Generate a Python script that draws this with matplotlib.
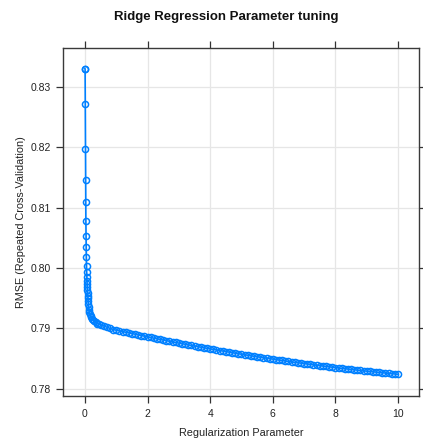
import matplotlib
matplotlib.use("Agg")
import matplotlib.pyplot as plt

plt.rcParams['font.family'] = ['Liberation Sans', 'DejaVu Sans']

# ridge penalty grid and cross-validated RMSE
lam = [0, 0.005, 0.01, 0.015, 0.02, 0.025, 0.03, 0.035, 0.04, 0.045,
       0.05, 0.055, 0.06, 0.065, 0.07, 0.075, 0.08, 0.085, 0.09, 0.095,
       0.10, 0.11, 0.12, 0.13, 0.14, 0.16, 0.18, 0.20, 0.23, 0.26,
       0.30, 0.35, 0.40, 0.45, 0.50, 0.60, 0.70, 0.80, 0.90, 1.0,
       1.1, 1.2, 1.3, 1.4, 1.5, 1.6, 1.7, 1.8, 1.9, 2.0,
       2.1, 2.2, 2.3, 2.4, 2.5, 2.6, 2.7, 2.8, 2.9, 3.0,
       3.1, 3.2, 3.3, 3.4, 3.5, 3.6, 3.7, 3.8, 3.9, 4.0,
       4.1, 4.2, 4.3, 4.4, 4.5, 4.6, 4.7, 4.8, 4.9, 5.0,
       5.1, 5.2, 5.3, 5.4, 5.5, 5.6, 5.7, 5.8, 5.9, 6.0,
       6.1, 6.2, 6.3, 6.4, 6.5, 6.6, 6.7, 6.8, 6.9, 7.0,
       7.1, 7.2, 7.3, 7.4, 7.5, 7.6, 7.7, 7.8, 7.9, 8.0,
       8.1, 8.2, 8.3, 8.4, 8.5, 8.6, 8.7, 8.8, 8.9, 9.0,
       9.1, 9.2, 9.3, 9.4, 9.5, 9.6, 9.7, 9.8, 9.9, 10.0]
rmse = [0.8330, 0.8329, 0.8271, 0.8197, 0.8145, 0.8109, 0.8078, 0.8053, 0.8035, 0.8018,
        0.8003, 0.7994, 0.7985, 0.7979, 0.7973, 0.7968, 0.7963, 0.7958, 0.7954, 0.7950,
        0.7946, 0.7940, 0.7935, 0.7931, 0.7927, 0.7923, 0.7920, 0.7918, 0.7916, 0.7914,
        0.7912, 0.7910, 0.7908, 0.7907, 0.7906, 0.7904, 0.7902, 0.7900, 0.7898, 0.7897,
        0.78959, 0.78947, 0.78936, 0.78925, 0.78914, 0.78903, 0.78892, 0.78881, 0.78870, 0.78859,
        0.78849, 0.78838, 0.78828, 0.78817, 0.78807, 0.78796, 0.78786, 0.78776, 0.78766, 0.78756,
        0.78746, 0.78736, 0.78726, 0.78717, 0.78707, 0.78698, 0.78688, 0.78679, 0.78669, 0.78660,
        0.78651, 0.78642, 0.78633, 0.78624, 0.78615, 0.78606, 0.78597, 0.78589, 0.78580, 0.78572,
        0.78563, 0.78555, 0.78546, 0.78538, 0.78530, 0.78522, 0.78514, 0.78506, 0.78498, 0.78491,
        0.78483, 0.78475, 0.78468, 0.78460, 0.78453, 0.78445, 0.78438, 0.78431, 0.78424, 0.78417,
        0.78410, 0.78403, 0.78396, 0.78389, 0.78383, 0.78376, 0.78370, 0.78363, 0.78357, 0.78351,
        0.78344, 0.78338, 0.78332, 0.78326, 0.78320, 0.78314, 0.78309, 0.78303, 0.78297, 0.78292,
        0.78286, 0.78281, 0.78275, 0.78270, 0.78265, 0.78260, 0.78255, 0.78250, 0.78245, 0.78240]

xticks = [0, 2, 4, 6, 8, 10]
yticks = [0.78, 0.79, 0.80, 0.81, 0.82, 0.83]

fig = plt.figure(figsize=(4.23, 4.41), dpi=100)
ax = fig.add_axes([0.149, 0.102, 0.8415, 0.789])

blue = '#0080ff'
ax.plot(lam, rmse, color=blue, lw=1.2, zorder=3)
ax.plot(lam, rmse, ls='none', marker='o', ms=4.4, mfc='none', mec=blue,
        mew=1.1, zorder=4)

ax.set_xlim(-0.7, 10.67)
ax.set_ylim(0.7788, 0.8364)
ax.set_xticks(xticks)
ax.set_xticklabels([str(t) for t in xticks])
ax.set_yticks(yticks)
ax.set_yticklabels(['%.2f' % t for t in yticks])
ax.grid(True, color='#e6e6e6', lw=0.9, zorder=0)
ax.set_axisbelow(True)

ax.tick_params(direction='out', length=5, width=0.9, color='#333333',
               labelsize=7.5, labelcolor='#222222', pad=4,
               top=True, right=True)
for s in ax.spines.values():
    s.set_color('#3a3a3a')
    s.set_linewidth(1.0)

ax.set_xlabel('Regularization Parameter', fontsize=7.8, color='#222222', labelpad=7)
ax.set_ylabel('RMSE (Repeated Cross-Validation)', fontsize=7.8, color='#222222', labelpad=3)
fig.text(0.536, 0.961, 'Ridge Regression Parameter tuning', ha='center', va='center',
         fontsize=9.5, fontweight='bold', color='#111111')

fig.savefig('out.png', dpi=100)
